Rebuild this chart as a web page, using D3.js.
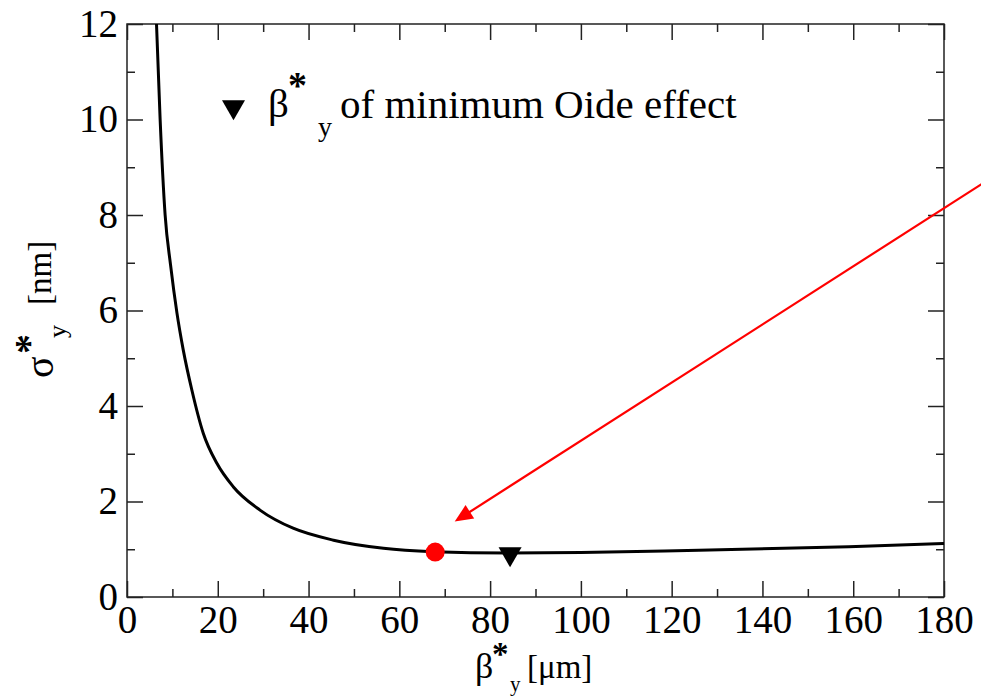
<!DOCTYPE html>
<html>
<head>
<meta charset="utf-8">
<script src="https://cdn.jsdelivr.net/npm/d3@7"></script>
<style>
  body { margin: 0; background: #ffffff; }
  svg { display: block; font-family: "Liberation Serif", "DejaVu Serif", serif; }
</style>
</head>
<body>
<svg id="chart" width="981" height="696"></svg>
<script>
// curve: beta*_y [um] vs sigma*_y [nm]
let betaValues  = [6.5, 7.3, 8.4, 9.6, 11.0, 12.4, 14.3, 16.8, 19.8, 23.4, 29.3, 36.6, 45.5, 56.5, 67.5, 84, 100, 126, 159, 180];
let sigmaValues = [12.0, 10.0, 8.0, 6.95, 5.95, 5.17, 4.33, 3.43, 2.80, 2.31, 1.82, 1.44, 1.19, 1.02, 0.95, 0.92, 0.93, 0.98, 1.05, 1.12];

// markers
let oidePoint = [84.4, 0.9];     // black triangle
let chosenPoint = [67.9, 0.94];  // red dot
let arrowFrom = [188.5, 8.66];
let arrowTo = [72.2, 1.58];

// axes
let xTicks = [0, 20, 40, 60, 80, 100, 120, 140, 160, 180];
let xMinorTicks = [10, 30, 50, 70, 90, 110, 130, 150, 170];
let yTicks = [0, 2, 4, 6, 8, 10, 12];
let yMinorTicks = [1, 3, 5, 7, 9, 11];

let svg = d3.select("#chart");
let plotLeft = 127, plotTop = 24, plotRight = 944, plotBottom = 597;
let width = plotRight - plotLeft;
let height = plotBottom - plotTop;
let frameColour = '#222';

let chart = svg.append('g')
    .attr('transform', `translate(${plotLeft}, ${plotTop})`);

const xScale = d3.scaleLinear().domain([0, 180]).range([0, width]);
const yScale = d3.scaleLinear().domain([0, 12]).range([height, 0]);

//ticks on all four sides, pointing inwards
function styleAxis(g) {
    g.select('.domain').remove();
    g.selectAll('line').attr('stroke', frameColour).attr('stroke-width', 1.5);
    g.selectAll('text')
        .attr('fill', '#000')
        .style('font-size', '39px')
        .style('font-family', '"Liberation Serif", serif');
}

chart.append('g')
    .attr('transform', 'translate(0, ' + height + ')')
    .call(d3.axisBottom(xScale).tickValues(xTicks).tickSize(-16).tickPadding(8).tickFormat(d3.format('d')))
    .call(styleAxis);
chart.append('g')
    .attr('transform', 'translate(0, ' + height + ')')
    .call(d3.axisBottom(xScale).tickValues(xMinorTicks).tickSize(-8).tickFormat(''))
    .call(styleAxis);
chart.append('g')
    .call(d3.axisTop(xScale).tickValues(xTicks).tickSize(-16).tickFormat(''))
    .call(styleAxis);
chart.append('g')
    .call(d3.axisTop(xScale).tickValues(xMinorTicks).tickSize(-8).tickFormat(''))
    .call(styleAxis);

chart.append('g')
    .call(d3.axisLeft(yScale).tickValues(yTicks).tickSize(-16).tickPadding(9).tickFormat(d3.format('d')))
    .call(styleAxis);
chart.append('g')
    .call(d3.axisLeft(yScale).tickValues(yMinorTicks).tickSize(-8).tickFormat(''))
    .call(styleAxis);
chart.append('g')
    .attr('transform', 'translate(' + width + ', 0)')
    .call(d3.axisRight(yScale).tickValues(yTicks).tickSize(-16).tickFormat(''))
    .call(styleAxis);
chart.append('g')
    .attr('transform', 'translate(' + width + ', 0)')
    .call(d3.axisRight(yScale).tickValues(yMinorTicks).tickSize(-8).tickFormat(''))
    .call(styleAxis);

//frame
chart.append('rect')
    .attr('x', 0)
    .attr('y', 0)
    .attr('width', width)
    .attr('height', height)
    .attr('fill', 'none')
    .attr('stroke', frameColour)
    .attr('stroke-width', 1.5);

//the curve
let points = betaValues.map((b, i) => [b, sigmaValues[i]]);
let line = d3.line()
    .x(d => xScale(d[0]))
    .y(d => yScale(d[1]))
    .curve(d3.curveMonotoneX);

chart.append('path')
    .datum(points)
    .attr('d', line)
    .attr('fill', 'none')
    .attr('stroke', '#000')
    .attr('stroke-width', 3);

//red dot
chart.append('circle')
    .attr('cx', xScale(chosenPoint[0]))
    .attr('cy', yScale(chosenPoint[1]))
    .attr('r', 9.5)
    .attr('fill', '#ff0000');

//triangle of minimum Oide effect
let triangle = d3.symbol().type(d3.symbolTriangle).size(230);
chart.append('path')
    .attr('d', triangle)
    .attr('transform', `translate(${xScale(oidePoint[0])}, ${yScale(oidePoint[1])}) rotate(180)`)
    .attr('fill', '#000');

//red arrow
let x1 = xScale(arrowFrom[0]), y1 = yScale(arrowFrom[1]);
let x2 = xScale(arrowTo[0]), y2 = yScale(arrowTo[1]);
let len = Math.hypot(x1 - x2, y1 - y2);
let ux = (x1 - x2) / len, uy = (y1 - y2) / len;
let headLen = 18, headHalf = 8;
chart.append('line')
    .attr('x1', x1)
    .attr('y1', y1)
    .attr('x2', x2 + ux * headLen * 0.8)
    .attr('y2', y2 + uy * headLen * 0.8)
    .attr('stroke', '#ff0000')
    .attr('stroke-width', 2.2);
chart.append('polygon')
    .attr('points', [
        [x2, y2],
        [x2 + ux * headLen - uy * headHalf, y2 + uy * headLen + ux * headHalf],
        [x2 + ux * headLen + uy * headHalf, y2 + uy * headLen - ux * headHalf]
    ].map(p => p.join(',')).join(' '))
    .attr('fill', '#ff0000');

//legend
svg.append('path')
    .attr('d', triangle)
    .attr('transform', 'translate(233.5, 107) rotate(180)')
    .attr('fill', '#000');

let legend = svg.append('text')
    .attr('fill', '#000')
    .style('font-size', '41px');
legend.append('tspan').attr('x', 268).attr('y', 117).text('β');
legend.append('tspan').attr('x', 288).attr('y', 98)
    .style('font-size', '38px').style('font-weight', 'bold').text('*');
legend.append('tspan').attr('x', 318).attr('y', 136).style('font-size', '28px').text('y');
legend.append('tspan').attr('x', 340).attr('y', 118).text('of minimum Oide effect');

//axis labels
let xLabel = svg.append('text')
    .attr('fill', '#000')
    .style('font-size', '33px');
xLabel.append('tspan').attr('x', 475).attr('y', 678).style('font-size', '36px').text('β');
xLabel.append('tspan').attr('x', 492).attr('y', 665)
    .style('font-size', '33px').style('font-weight', 'bold').text('*');
xLabel.append('tspan').attr('x', 510).attr('y', 691).style('font-size', '21px').text('y');
xLabel.append('tspan').attr('x', 527).attr('y', 678).text('[μm]');

let yLabel = svg.append('text')
    .attr('transform', 'translate(53, 378) rotate(-90)')
    .attr('fill', '#000')
    .style('font-size', '33px');
yLabel.append('tspan').attr('x', 0).attr('y', 0).style('font-size', '40px').text('σ');
yLabel.append('tspan').attr('x', 24).attr('y', -11)
    .style('font-size', '40px').style('font-weight', 'bold').text('*');
yLabel.append('tspan').attr('x', 40).attr('y', 13).style('font-size', '26px').text('y');
yLabel.append('tspan').attr('x', 73).attr('y', -2).text('[nm]');
</script>
</body>
</html>
